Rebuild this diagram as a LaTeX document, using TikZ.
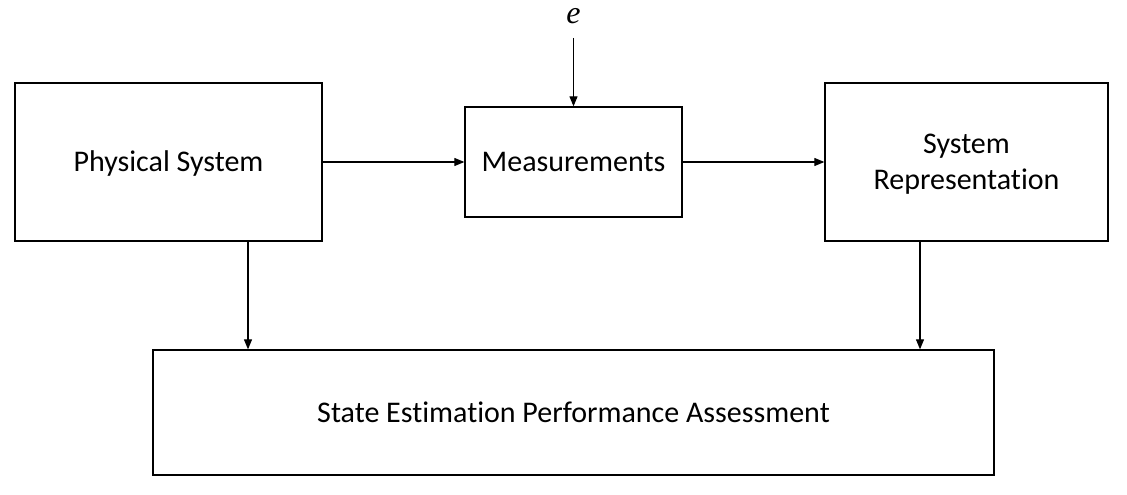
\documentclass[tikz,border=0pt]{standalone}
\usepackage{fontspec}
\setmainfont{Carlito}[Ligatures=NoCommon]
\newfontfamily\efont{Liberation Serif}
\usetikzlibrary{arrows.meta}
\newcommand{\lowr}[1]{\raisebox{-2.5pt}[\height][\depth]{\begin{tabular}{@{}c@{}}#1\end{tabular}}}
\begin{document}
\begin{tikzpicture}[x=1pt,y=-1pt,
  blk/.style={draw,line width=1.3pt,inner sep=0pt,align=center,font=\fontsize{30}{36}\selectfont},
  conn/.style={line width=1.1pt,-{Triangle[length=10pt,width=8pt]}}]
\useasboundingbox (0,0) rectangle (1127,495);
\node[blk,minimum width=307pt,minimum height=158pt] (ps) at (168.5,162) {\lowr{Physical System}};
\node[blk,minimum width=217pt,minimum height=110pt] (me) at (573.5,162) {\lowr{Measurements}};
\node[blk,minimum width=283pt,minimum height=158pt] (sr) at (966.5,162) {\lowr{System\\Representation}};
\node[blk,minimum width=841pt,minimum height=125pt] (se) at (573.5,412.5) {\lowr{State Estimation Performance Assessment}};
\node[inner sep=0pt,font=\efont\itshape\fontsize{32}{36}\selectfont] (e) at (573.5,16) {e};
\coordinate (etop) at (573.5,38);
\draw[conn] (etop) -- (me.north);
\draw[conn] (ps.east) -- (me.west);
\draw[conn] (me.east) -- (sr.west);
\draw[conn] (ps.south -| 248,0) -- (se.north -| 248,0);
\draw[conn] (sr.south -| 920,0) -- (se.north -| 920,0);
\end{tikzpicture}
\end{document}
